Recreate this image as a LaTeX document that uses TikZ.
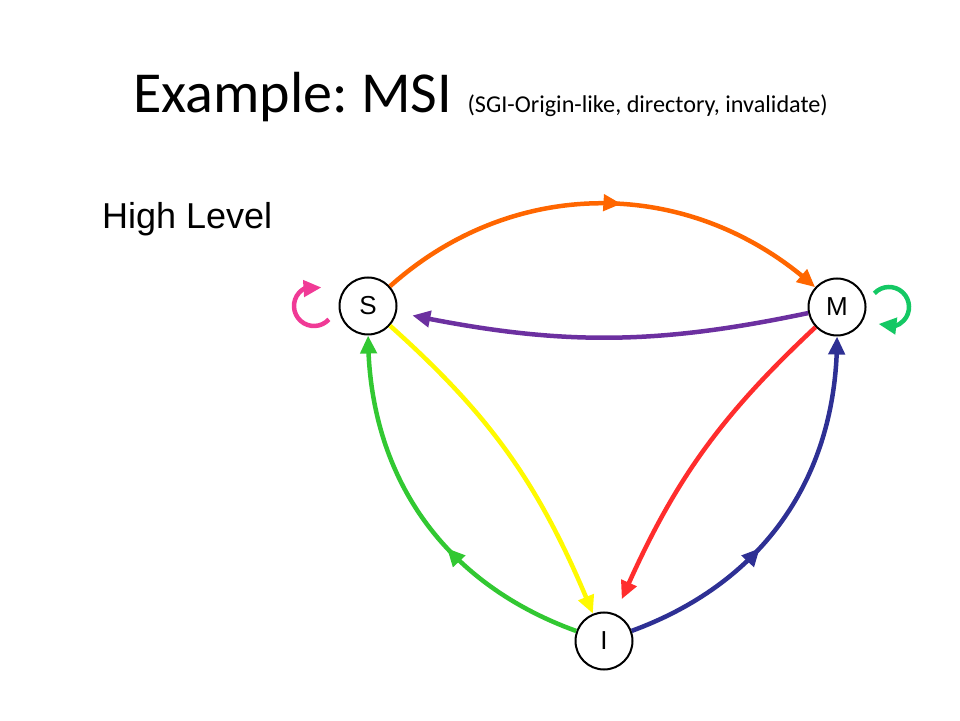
\documentclass[tikz,border=0pt]{standalone}
\usepackage{fontspec}
\setmainfont{Carlito}
\newfontfamily\arialfont{Liberation Sans}
\usetikzlibrary{arrows.meta,bending,decorations.markings}

\definecolor{orangeedge}{RGB}{255,102,0}
\definecolor{purpleedge}{RGB}{108,48,160}
\definecolor{rededge}{RGB}{255,45,45}
\definecolor{yellowedge}{RGB}{255,250,0}
\definecolor{greenedge}{RGB}{50,200,50}
\definecolor{blueedge}{RGB}{46,48,148}
\definecolor{pinkloop}{RGB}{240,58,150}
\definecolor{mintloop}{RGB}{20,200,100}

\begin{document}
\begin{tikzpicture}[x=1pt,y=1pt,
	state/.style={circle,draw,line width=2pt,minimum size=57pt,inner sep=0pt,font=\arialfont\fontsize{26}{26}\selectfont},
	edge/.style={line width=4.5pt,-{Triangle[length=18pt,width=16pt]}},
	midarrow/.style={postaction={decorate},decoration={markings,mark=at position #1 with {\arrow{Triangle[length=18pt,width=16pt]}}}}]
	\useasboundingbox (0,0) rectangle (960,720);
	% Ueberschrift
	\node[anchor=base west,inner sep=0pt,font=\fontsize{58}{58}\selectfont] (title) at (133,607) {Example:\hspace{-4pt} MSI};
	\node[anchor=base west,inner sep=0pt,font=\fontsize{24.2}{24.2}\selectfont] (subtitle) at ([xshift=15pt]title.base east) {(SGI-Origin-like, directory, invalidate)};
	\node[anchor=base west,inner sep=0pt,font=\arialfont\fontsize{36}{36}\selectfont] (level) at (102,491) {High Level};
	% Zustaende
	\node[state] (S) at (368,414) {S};
	\node[state] (M) at (837,413) {M};
	\node[state] (I) at (604,79) {I};
	\coordinate (Sloop) at ([xshift=-54pt]S.center);
	\coordinate (Mloop) at ([xshift=52pt]M.center);
	% Uebergaenge
	\draw[edge,orangeedge,midarrow=0.54] (S) to[bend left=42] (M);
	\draw[edge,purpleedge,shorten >=16pt] (M) to[bend left=12] (S);
	\draw[edge,rededge,shorten >=16pt] (M) to[bend right=12] (I);
	\draw[edge,yellowedge] (S) to[bend left=13] (I);
	\draw[edge,greenedge,midarrow=0.4] (I) to[bend left=35] (S);
	\draw[edge,blueedge,midarrow=0.4] (I) to[bend right=35] (M);
	% Schleifen
	\draw[edge,pinkloop] (Sloop) ++(-42:20) arc[start angle=-42,end angle=-292,radius=20];
	\draw[edge,mintloop] (Mloop) ++(137:20) arc[start angle=137,end angle=-122,radius=20];
\end{tikzpicture}
\end{document}
